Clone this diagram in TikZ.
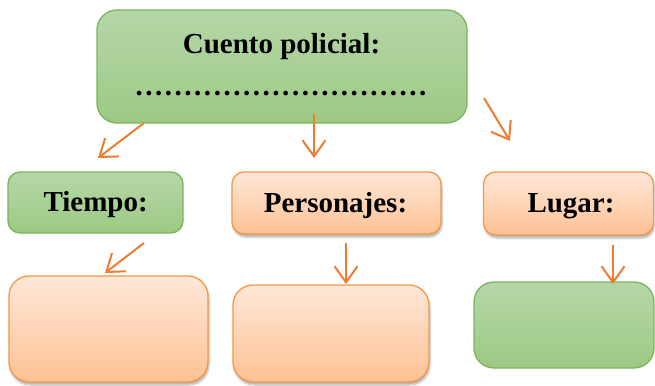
\documentclass[tikz,border=0pt]{standalone}
\usepackage{fontspec}
\setmainfont{Liberation Serif}
\usetikzlibrary{arrows.meta,shadows.blur}
\definecolor{grtop}{HTML}{B5D7A8}
\definecolor{grbot}{HTML}{9DC984}
\definecolor{grline}{HTML}{7DB35C}
\definecolor{ortop}{HTML}{FFE7D8}
\definecolor{orbot}{HTML}{FDC294}
\definecolor{orline}{HTML}{F79646}
\definecolor{arr}{HTML}{ED7D31}
\newcommand{\dotsten}{.\hfil.\hfil.\hfil.\hfil.\hfil.\hfil.\hfil.\hfil.\hfil.}
\tikzset{
  boxbase/.style={rectangle, inner sep=0pt, line width=1.3pt},
  greenbox/.style={boxbase, draw=grline, top color=grtop, bottom color=grbot},
  orangebox/.style={boxbase, draw=orline, top color=ortop, bottom color=orbot,
    blur shadow={shadow xshift=1pt, shadow yshift=-3pt, shadow opacity=30, shadow blur steps=6}},
  lbl/.style={inner sep=0pt, anchor=base, font=\fontsize{29}{34}\bfseries\selectfont},
  arrowline/.style={draw=arr, line width=2pt, -{Straight Barb[length=16pt, width=23pt, line width=2pt]}},
}
\begin{document}
\begin{tikzpicture}[x=1pt, y=-1pt]
\useasboundingbox (0,0) rectangle (655,385);
% boxes
\node[greenbox, rounded corners=20pt, minimum width=370pt, minimum height=113pt] (top) at (282,66.5) {};
\node[greenbox, rounded corners=12pt, minimum width=175pt, minimum height=61pt] (tiempo) at (95.5,202.5) {};
\node[orangebox, rounded corners=12pt, minimum width=209pt, minimum height=62pt] (pers) at (336.5,203) {};
\node[orangebox, rounded corners=12pt, minimum width=170pt, minimum height=63pt] (lugar) at (568.5,203.5) {};
\node[orangebox, rounded corners=20pt, minimum width=199pt, minimum height=106pt] (bl) at (108.5,329) {};
\node[orangebox, rounded corners=20pt, minimum width=196pt, minimum height=97pt] (bm) at (331,333.5) {};
\node[greenbox, rounded corners=20pt, minimum width=180pt, minimum height=86pt] (br) at (564,325) {};
% labels
\node[lbl] (ttop) at (281.5,54) {Cuento policial:};
\node[lbl] (tdots) at (281,95.5) {\makebox[291pt][s]{\dotsten\hfil\dotsten\hfil\dotsten}};
\node[lbl] (ttiempo) at (95.6,211.5) {Tiempo:};
\node[lbl] (tpers) at (335.5,212.5) {Personajes:};
\node[lbl] (tlugar) at (571,212.5) {Lugar:};
% arrow endpoints
\coordinate (a1s) at (144,123); \coordinate (a1e) at (98,158);
\coordinate (a2s) at (314,114); \coordinate (a2e) at (314,158);
\coordinate (a3s) at (484,98);  \coordinate (a3e) at (510,141);
\coordinate (a4s) at (144,243); \coordinate (a4e) at (105,273);
\coordinate (a5s) at (346,243); \coordinate (a5e) at (346,284);
\coordinate (a6s) at (613,245); \coordinate (a6e) at (613,284);
\draw[arrowline] (a1s) -- (a1e);
\draw[arrowline] (a2s) -- (a2e);
\draw[arrowline] (a3s) -- (a3e);
\draw[arrowline] (a4s) -- (a4e);
\draw[arrowline] (a5s) -- (a5e);
\draw[arrowline] (a6s) -- (a6e);
\end{tikzpicture}
\end{document}
